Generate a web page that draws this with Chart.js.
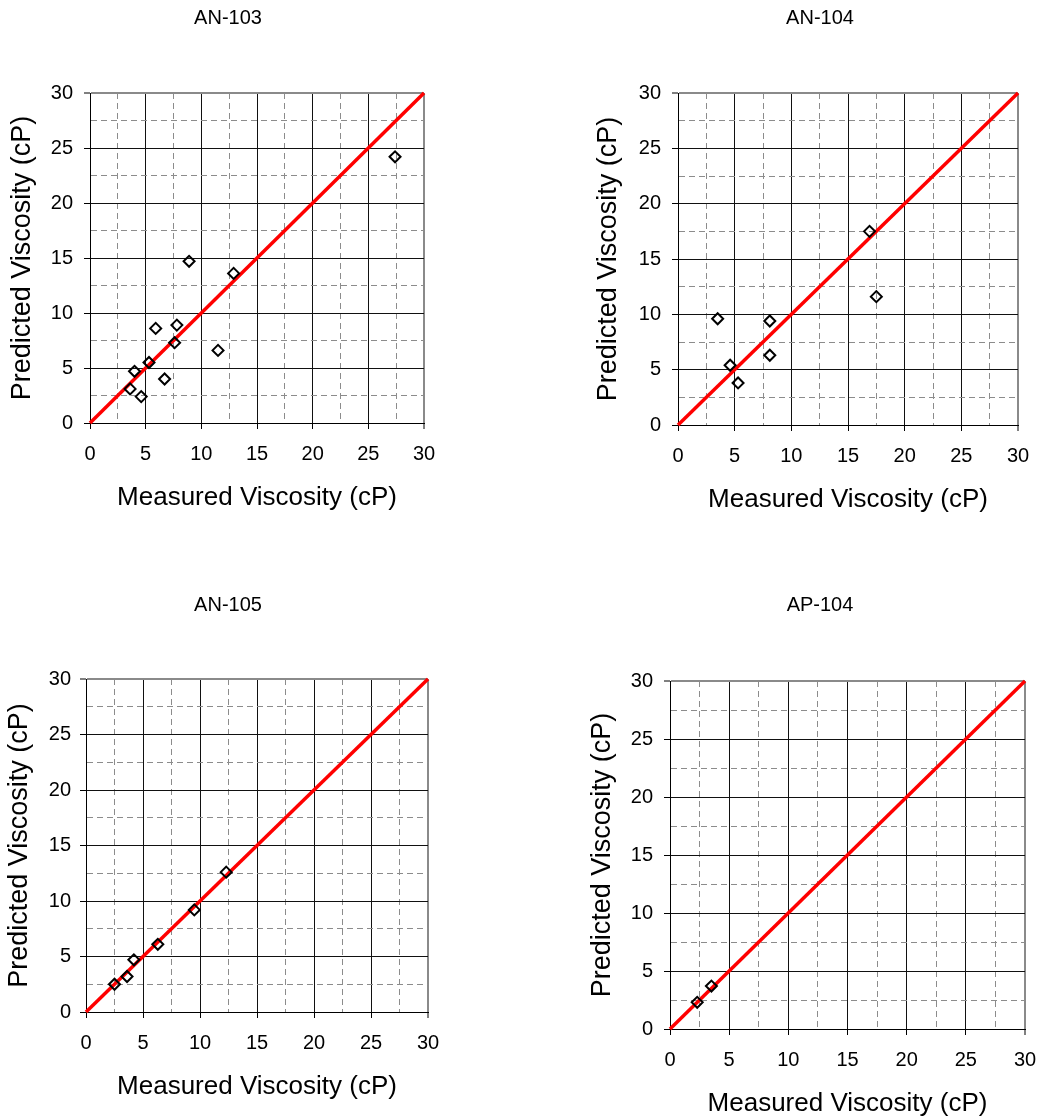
<!DOCTYPE html>
<html>
<head>
<meta charset="utf-8">
<script src="https://cdn.jsdelivr.net/npm/chart.js@4/dist/chart.umd.min.js"></script>
<style>
html, body { margin: 0; padding: 0; background: #fff; overflow: hidden; width: 1039px; height: 1118px; position: relative; }
canvas { position: absolute; }
</style>
</head>
<body>
<canvas id="c1"></canvas>
<canvas id="c2"></canvas>
<canvas id="c3"></canvas>
<canvas id="c4"></canvas>
<script>
// ---- axis / text data ----
const AXIS_MIN = 0;
const AXIS_MAX = 30;
const MINOR_STEP = 2.5;
const MAJOR_STEP = 5;
const chartTitles = ['AN-103', 'AN-104', 'AN-105', 'AP-104'];
const xAxisTitle = 'Measured Viscosity (cP)';
const yAxisTitle = 'Predicted Viscosity (cP)';

// ---- series values ----
const an103Measured  = [27.4, 8.9, 12.9, 5.9, 7.8, 7.6, 11.5, 5.3, 4.0, 6.7, 3.6, 4.6];
const an103Predicted = [24.2, 14.7, 13.6, 8.6, 8.9, 7.3, 6.6, 5.5, 4.7, 4.0, 3.1, 2.4];
const an104Measured  = [16.9, 17.5, 3.5, 8.1, 8.1, 4.6, 5.3];
const an104Predicted = [17.5, 11.6, 9.6, 9.4, 6.3, 5.4, 3.8];
const an105Measured  = [12.3, 9.5, 6.3, 4.2, 3.6, 2.5];
const an105Predicted = [12.6, 9.2, 6.1, 4.7, 3.2, 2.5];
const ap104Measured  = [3.5, 2.3];
const ap104Predicted = [3.7, 2.3];

const seriesMeasured  = [an103Measured, an104Measured, an105Measured, ap104Measured];
const seriesPredicted = [an103Predicted, an104Predicted, an105Predicted, ap104Predicted];

// ---- page layout (positions only) ----
const layouts = [
  { id: 'c1', left: 0,   top: 0,   width: 456, height: 515, yW: 90, rightW: 32, tTop: 6,  tBot: 63, yTitleC: 23, yPad: 11 },
  { id: 'c2', left: 590, top: 0,   width: 460, height: 517, yW: 88, rightW: 32, tTop: 6,  tBot: 63, yTitleC: 19, yPad: 11 },
  { id: 'c3', left: 0,   top: 580, width: 456, height: 524, yW: 86, rightW: 28, tTop: 13, tBot: 62, yTitleC: 20, yPad: 9 },
  { id: 'c4', left: 580, top: 580, width: 480, height: 541, yW: 90, rightW: 35, tTop: 13, tBot: 64, yTitleC: 23, yPad: 11 }
];

const FONT = '"Liberation Sans", Arial, sans-serif';
const TITLE_SIZE = 20, TICK_SIZE = 20, XT_SIZE = 26, YT_SIZE = 27;
const X_SCALE_H = 92;

function isMajor(v) {
  const r = v / MAJOR_STEP;
  return Math.abs(r - Math.round(r)) < 1e-6;
}
function gridColor(ctx) {
  if (!ctx.tick) return '#000';
  const v = ctx.tick.value;
  if (v === AXIS_MAX) return '#8a8a8a';
  if (v === AXIS_MIN) return '#000';
  return isMajor(v) ? '#111' : '#8c8c8c';
}
function gridWidth(ctx) {
  return (ctx.tick && ctx.tick.value === AXIS_MAX) ? 2 : 1;
}
function gridDash(ctx) {
  return (ctx.tick && !isMajor(ctx.tick.value)) ? [6, 4] : [];
}
function tickColor(ctx) {
  return (ctx.tick && isMajor(ctx.tick.value)) ? '#000' : 'rgba(0,0,0,0)';
}
function tickLabel(v) {
  return isMajor(v) ? String(v) : '';
}

function axisBase(padding) {
  return {
    type: 'linear',
    min: AXIS_MIN,
    max: AXIS_MAX,
    grid: { color: gridColor, lineWidth: gridWidth, drawTicks: true, tickLength: 6, tickColor: tickColor, tickWidth: 1 },
    border: { display: true, color: '#000', width: 1, dash: gridDash },
    ticks: {
      stepSize: MINOR_STEP, autoSkip: false, maxRotation: 0, minRotation: 0,
      callback: tickLabel, color: '#000', padding: padding,
      font: { family: FONT, size: TICK_SIZE }
    }
  };
}

layouts.forEach((L, i) => {
  const cv = document.getElementById(L.id);
  cv.width = L.width; cv.height = L.height;
  cv.style.left = L.left + 'px'; cv.style.top = L.top + 'px';
  cv.style.width = L.width + 'px'; cv.style.height = L.height + 'px';

  const points = seriesMeasured[i].map((m, k) => ({ x: m, y: seriesPredicted[i][k] }));
  const refLine = [{ x: AXIS_MIN, y: AXIS_MIN }, { x: AXIS_MAX, y: AXIS_MAX }];

  const xScale = axisBase(13);
  xScale.position = 'bottom';
  xScale.title = { display: true, text: xAxisTitle, color: '#000', font: { family: FONT, size: XT_SIZE }, padding: { top: 0, bottom: X_SCALE_H - 75 - XT_SIZE * 0.6 } };
  xScale.afterFit = s => { s.height = X_SCALE_H; };

  const yScale = axisBase(L.yPad);
  yScale.position = 'left';
  yScale.title = { display: true, text: yAxisTitle, color: '#000', font: { family: FONT, size: YT_SIZE }, padding: { top: L.yTitleC - YT_SIZE * 0.6, bottom: 0 } };
  yScale.afterFit = s => { s.width = L.yW; };

  new Chart(cv, {
    type: 'scatter',
    data: {
      datasets: [
        {
          label: chartTitles[i],
          data: points,
          pointStyle: 'rectRot',
          pointRadius: 5.5,
          pointHoverRadius: 5.5,
          pointBorderWidth: 2,
          pointBorderColor: '#000',
          pointBackgroundColor: 'rgba(0,0,0,0)',
          showLine: false
        },
        {
          label: 'y = x',
          data: refLine,
          showLine: true,
          borderColor: '#ff0000',
          borderWidth: 3.5,
          pointRadius: 0,
          pointHoverRadius: 0,
          fill: false,
          clip: 4
        }
      ]
    },
    options: {
      responsive: false,
      animation: false,
      devicePixelRatio: 1,
      layout: { padding: 0 },
      plugins: {
        legend: { display: false },
        tooltip: { enabled: false },
        title: {
          display: true, text: chartTitles[i], color: '#000',
          font: { family: FONT, size: TITLE_SIZE, weight: 'normal' },
          padding: { top: L.tTop, bottom: L.tBot }
        }
      },
      scales: {
        x: xScale,
        y: yScale,
        yr: {
          type: 'linear', position: 'right', display: true,
          grid: { display: false, drawTicks: false },
          border: { display: false },
          ticks: { display: false },
          afterFit: s => { s.width = L.rightW; }
        }
      }
    }
  });
});
</script>
</body>
</html>
